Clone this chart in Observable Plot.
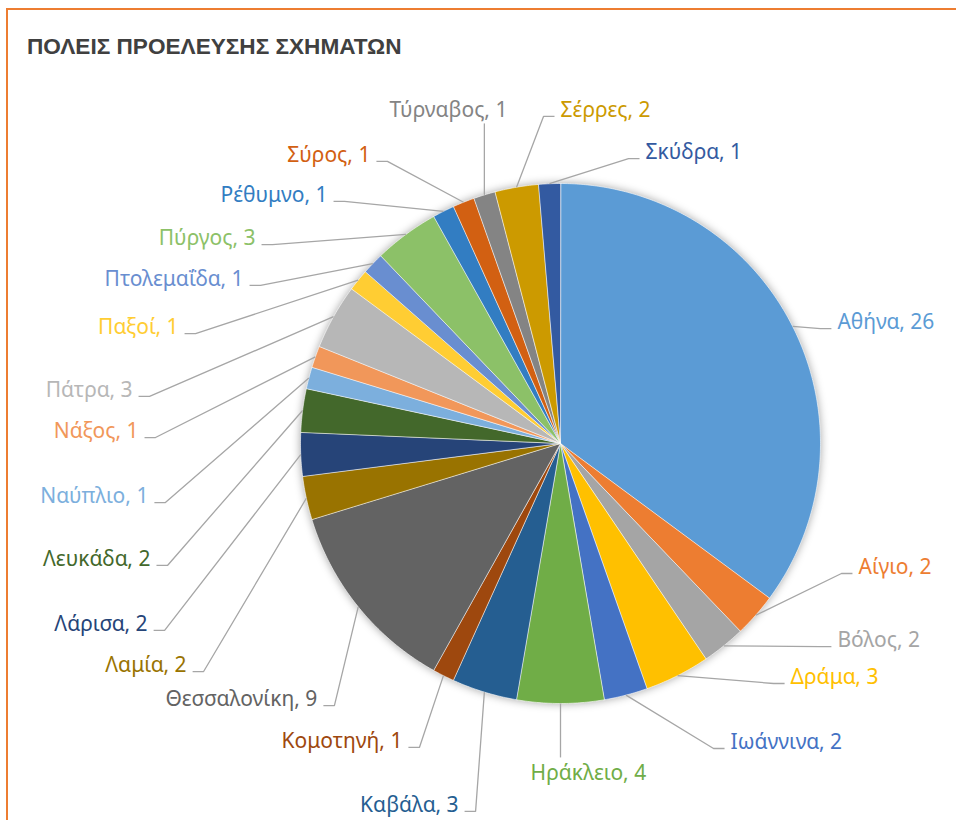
<!DOCTYPE html>
<html>
<head>
<meta charset="utf-8">
<script src="https://cdn.jsdelivr.net/npm/d3@7"></script>
<script src="https://cdn.jsdelivr.net/npm/@observablehq/plot@0.6"></script>
<style>
  body { margin: 0; background: #fff; }
  #wrap { position: relative; width: 956px; height: 820px; overflow: hidden; background: #fff; }
  #frame { position: absolute; left: 6px; top: 8px; width: 2000px; height: 2000px;
           border-left: 2px solid #ED7D31; border-top: 2px solid #ED7D31; }
  #chart { position: absolute; left: 0; top: 0; }
  #title { position: absolute; left: 27px; top: 36px; font: bold 22.6px "Liberation Sans", Arial, sans-serif;
           line-height: 22px; color: #404040; white-space: nowrap; }
</style>
</head>
<body>
<div id="wrap">
  <div id="frame"></div>
  <div id="chart"></div>
  <div id="title">ΠΟΛΕΙΣ ΠΡΟΕΛΕΥΣΗΣ ΣΧΗΜΑΤΩΝ</div>
</div>
<script>
// ---- data (clockwise from 12 o'clock) ----
const cities = ["Αθήνα","Αίγιο","Βόλος","Δράμα","Ιωάννινα","Ηράκλειο","Καβάλα","Κομοτηνή","Θεσσαλονίκη",
  "Λαμία","Λάρισα","Λευκάδα","Ναύπλιο","Νάξος","Πάτρα","Παξοί","Πτολεμαΐδα","Πύργος","Ρέθυμνο",
  "Σύρος","Τύρναβος","Σέρρες","Σκύδρα"];
const counts = [26,2,2,3,2,4,3,1,9,2,2,2,1,1,3,1,1,3,1,1,1,2,1];
const colors = ["#5B9BD5","#ED7D31","#A5A5A5","#FFC000","#4472C4","#70AD47","#255E91","#9E480E","#636363",
  "#997300","#264478","#43682B","#7CAFDD","#F1975A","#B7B7B7","#FFCD33","#698ED0","#8CC168","#327DC2",
  "#D26012","#848484","#CC9A00","#335AA1"];

// ---- label layout (in pie-radius units from the centre, y pointing down) ----
const labelX = [1.065,1.146,1.065,0.885,0.654,-0.115,-0.392,-0.608,-0.935,-1.438,-1.588,-1.577,-1.585,
  -1.623,-1.646,-1.469,-1.219,-1.173,-0.896,-0.731,-0.204,0.000,0.327];
const labelY = [-0.465,0.477,0.758,0.900,1.150,1.269,1.392,1.146,0.985,0.854,0.696,0.446,0.204,
  -0.046,-0.204,-0.446,-0.631,-0.788,-0.954,-1.108,-1.281,-1.281,-1.119];
const labelMode = ["start","start","start","start","start","below","end","end","end","end","end","end","end",
  "end","end","end","end","end","end","end","above","start","start"];

// ---- geometry ----
const R = 260, W = 956, H = 820, CX = 560, CY = 443;
const total = d3.sum(counts);
const px = v => v / R;              // pixels -> radius units
const arcs = [];
let acc = 0;
counts.forEach((c, i) => {
  const a0 = acc / total * 2 * Math.PI;
  acc += c;
  const a1 = acc / total * 2 * Math.PI;
  arcs.push({city: cities[i], value: c, a0, a1, mid: (a0 + a1) / 2});
});

const slicePts = [];
arcs.forEach(s => {
  slicePts.push({city: s.city, x: 0, y: 0});
  const n = Math.max(2, Math.ceil((s.a1 - s.a0) / (Math.PI / 360)));
  for (let k = 0; k <= n; k++) {
    const a = s.a0 + (s.a1 - s.a0) * k / n;
    slicePts.push({city: s.city, x: Math.sin(a), y: -Math.cos(a)});
  }
});

const labels = arcs.map((s, i) => ({
  city: s.city, text: `${s.city}, ${s.value}`, x: labelX[i], y: labelY[i], mode: labelMode[i],
  ex: Math.sin(s.mid), ey: -Math.cos(s.mid)
}));

const leaderPts = [];
labels.forEach(l => {
  let knee, end;
  if (l.mode === "start") {
    end = [l.x - px(6), l.y + px(6)]; knee = [l.x - px(17), l.y + px(6)];
  } else if (l.mode === "end") {
    end = [l.x + px(6), l.y + px(6)]; knee = [l.x + px(17), l.y + px(6)];
  } else if (l.mode === "above") {
    end = [l.ex, l.y + px(13)]; knee = end;
  } else {
    end = [l.ex, l.y - px(16)]; knee = end;
  }
  leaderPts.push({city: l.city, x: l.ex, y: l.ey});
  leaderPts.push({city: l.city, x: knee[0], y: knee[1]});
  leaderPts.push({city: l.city, x: end[0], y: end[1]});
});

const FONT = 21;
const chart = Plot.plot({
  width: W, height: H, margin: 0,
  x: {domain: [-CX / R, (W - CX) / R], range: [0, W], axis: null},
  y: {domain: [-CY / R, (H - CY) / R], range: [0, H], axis: null},
  color: {domain: cities, range: colors},
  style: {background: "transparent", fontFamily: "'Noto Sans', sans-serif"},
  marks: [
    Plot.line(slicePts, {x: "x", y: "y", z: "city", fill: "city", stroke: "white", strokeWidth: 0.6,
      strokeLinejoin: "miter", curve: "linear-closed"}),
    Plot.line(leaderPts, {x: "x", y: "y", z: "city", stroke: "#A6A6A6", strokeWidth: 1.3,
      strokeLinejoin: "miter", strokeLinecap: "butt"}),
    Plot.text(labels.filter(l => l.mode === "start" || l.mode === "below"),
      {x: "x", y: "y", text: "text", fill: "city", textAnchor: "start", fontSize: FONT}),
    Plot.text(labels.filter(l => l.mode === "end" || l.mode === "above"),
      {x: "x", y: "y", text: "text", fill: "city", textAnchor: "end", fontSize: FONT})
  ]
});
document.getElementById("chart").appendChild(chart);
const pie = chart.querySelector('g[aria-label="line"]');
if (pie) pie.style.filter = "drop-shadow(0px 0px 4px rgba(0,0,0,0.35))";
</script>
</body>
</html>
